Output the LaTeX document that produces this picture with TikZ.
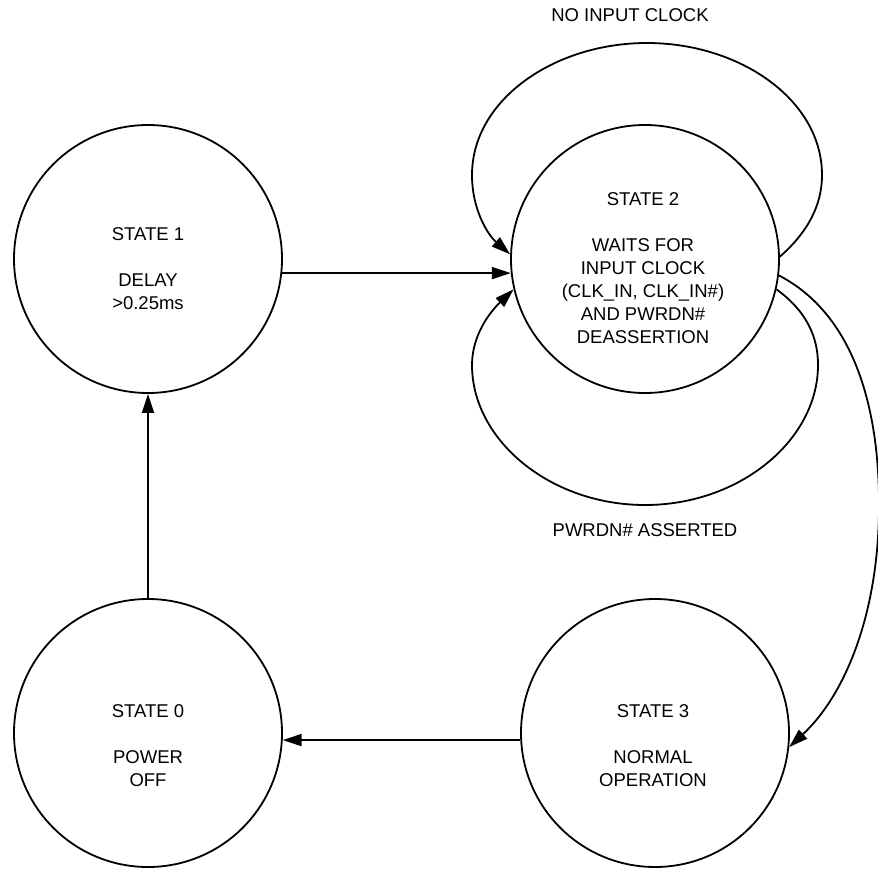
\documentclass[tikz,border=0pt]{standalone}
\usepackage{fontspec}
\setmainfont{Liberation Sans}
\usetikzlibrary{arrows.meta}
\begin{document}
\begin{tikzpicture}[x=1pt,y=-1pt,
  state/.style={draw,circle,line width=1.8pt,minimum size=268pt,inner sep=0pt},
  txt/.style={align=center,font=\fontsize{18.5}{23}\selectfont,inner sep=0pt},
  conn/.style={line width=1.8pt,-{Triangle[length=19pt,width=12pt]}},
  plain/.style={line width=1.8pt}]
\useasboundingbox (0,0) rectangle (878,872);
\node[state] (s1) at (148,259) {};
\node[state] (s2) at (645,259) {};
\node[state] (s0) at (148,733) {};
\node[state] (s3) at (655,733) {};
\node[txt] (t1) at (148,269) {STATE 1\\\mbox{}\\DELAY\\>0.25ms};
\node[txt] (t2) at (643,268) {STATE 2\\\mbox{}\\WAITS FOR\\INPUT CLOCK\\(CLK\_IN, CLK\_IN\#)\\AND PWRDN\#\\DEASSERTION};
\node[txt] (t0) at (148,746) {STATE 0\\\mbox{}\\POWER\\OFF};
\node[txt] (t3) at (653,746) {STATE 3\\\mbox{}\\NORMAL\\OPERATION};
\node[txt] (l1) at (630,15) {NO INPUT CLOCK};
\node[txt] (l2) at (645,530) {PWRDN\# ASSERTED};
\draw[conn] (s0.north) -- (s1.south);
\draw[conn] (s1.-6.4) -- (s2.186.4);
\draw[conn] (s3.183) -- (s0.-3);
\draw[conn] (s2.1) .. controls (808,232) and (822,205) .. (822,175)
  .. controls (822,100) and (740,43) .. (647,43)
  .. controls (554,43) and (472,100) .. (472,175)
  .. controls (472,210) and (488,235) .. (s2.178);
\draw[conn] (s2.-13) .. controls (805,310) and (818,335) .. (818,365)
  .. controls (818,440) and (740,505) .. (645,505)
  .. controls (550,505) and (472,440) .. (472,365)
  .. controls (472,335) and (490,312) .. (s2.193);
\draw[conn] (s2.-7) .. controls (855,315) and (880,410) .. (879,510)
  .. controls (878,615) and (845,695) .. (s3.-6);
\end{tikzpicture}
\end{document}
